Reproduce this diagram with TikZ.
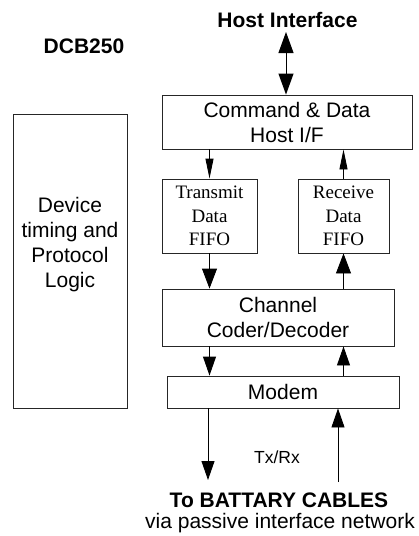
\documentclass[tikz,border=0pt]{standalone}
\usepackage{fontspec}
\setmainfont{Liberation Sans}
\newfontfamily\serifface{Liberation Serif}
\usetikzlibrary{arrows.meta}
\tikzset{
  blk/.style={draw=black!85, line width=0.9pt, inner sep=0pt, align=center,
    font=\fontsize{21}{25}\selectfont},
  fifo/.style={blk, font=\serifface\fontsize{19}{23.5}\selectfont},
  bigarrow/.style={line width=0.9pt, -{Triangle[length=20pt,width=15pt]}},
  smallarrow/.style={line width=0.9pt, -{Triangle[length=20pt,width=8pt]}},
  midarrow/.style={line width=0.9pt, -{Triangle[length=19pt,width=13pt]}},
  hostarrow/.style={line width=1pt, {Triangle[length=21pt,width=15pt]}-{Triangle[length=21pt,width=15pt]}},
  boldtxt/.style={inner sep=0pt, font=\bfseries\fontsize{21}{25}\selectfont},
  plaintxt/.style={inner sep=0pt, align=center, font=\fontsize{21}{25}\selectfont}
}
\begin{document}
\begin{tikzpicture}[x=1pt,y=-1pt]
\useasboundingbox (0,0) rectangle (419,536);

% boxes
\node[blk, minimum width=250pt, minimum height=54pt] (cmd) at (287,122) {Command \& Data\\Host I/F};
\node[fifo, minimum width=95pt, minimum height=74pt] (tx) at (209.5,216) {Transmit\\Data\\FIFO};
\node[fifo, minimum width=91pt, minimum height=74pt] (rx) at (343.5,216) {Receive\\Data\\FIFO};
\node[blk, minimum width=232pt, minimum height=57pt] (chan) at (278,317.5) {Channel\\Coder/Decoder};
\node[blk, minimum width=232pt, minimum height=32pt] (modem) at (283,392) {Modem};
\node[blk, minimum width=114pt, minimum height=294pt] (dev) at (70,261) {};
\node[plaintxt] (devtxt) at (70,245) {Device\\timing and\\Protocol\\Logic};

% texts
\node[boldtxt, anchor=base] (host) at (287.5,27) {Host Interface};
\node[boldtxt, anchor=base] (dcb) at (84,53) {DCB250};
\node[inner sep=0pt, font=\fontsize{17.5}{20}\selectfont] (txrx) at (277,457) {Tx/Rx};
\node[boldtxt, anchor=base] (batt) at (279,507) {To BATTARY CABLES};
\node[plaintxt, anchor=base] (via) at (280,528) {via passive interface network};

% coordinates for free ends
\coordinate (hosttip) at (286,32);
\coordinate (txend) at (208,480);
\coordinate (rxstart) at (338,482);

% connectors
\draw[hostarrow] (hosttip) -- (hosttip |- cmd.north);
\draw[smallarrow] (cmd.south -| tx.north) -- (tx.north);
\draw[smallarrow] (rx.north) -- (rx.north |- cmd.south);
\draw[bigarrow] (tx.south) -- (tx.south |- chan.north);
\draw[bigarrow] (rx.south |- chan.north) -- (rx.south);
\draw[midarrow] (chan.south -| tx.south) -- (modem.north -| tx.south);
\draw[midarrow] (modem.north -| rx.south) -- (chan.south -| rx.south);
\draw[midarrow] (modem.south -| txend) -- (txend);
\draw[midarrow] (rxstart) -- (modem.south -| rxstart);
\end{tikzpicture}
\end{document}
